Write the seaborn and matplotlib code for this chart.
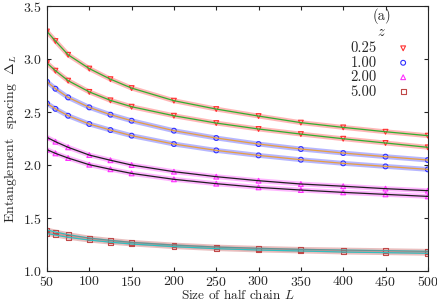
import numpy as np
import pandas as pd
import matplotlib
matplotlib.use("Agg")
import matplotlib.pyplot as plt
import seaborn as sns

sns.set_style("ticks")
plt.rcParams['font.family'] = 'serif'
plt.rcParams['font.serif'] = ['cmr10']
plt.rcParams['mathtext.fontset'] = 'cm'
plt.rcParams['axes.formatter.use_mathtext'] = True
plt.rcParams['xtick.direction'] = 'in'
plt.rcParams['ytick.direction'] = 'in'
plt.rcParams['xtick.top'] = True
plt.rcParams['ytick.right'] = True

# sizes of half chain
L = [50, 60, 75, 100, 125, 150, 200, 250, 300, 350, 400, 450, 500]

# two curves for each z
z025_a = [3.26, 3.17, 3.04, 2.91, 2.81, 2.726, 2.607, 2.528, 2.462, 2.400, 2.355, 2.314, 2.277]
z025_b = [2.962, 2.89, 2.796, 2.690, 2.61, 2.550, 2.465, 2.396, 2.340, 2.292, 2.248, 2.208, 2.167]
z100_a = [2.786, 2.72, 2.638, 2.544, 2.475, 2.418, 2.324, 2.255, 2.198, 2.151, 2.113, 2.079, 2.047]
z100_b = [2.582, 2.53, 2.465, 2.387, 2.33, 2.277, 2.198, 2.138, 2.091, 2.050, 2.016, 1.987, 1.959]
z200_a = [2.261, 2.22, 2.167, 2.094, 2.045, 2.000, 1.937, 1.890, 1.852, 1.821, 1.800, 1.777, 1.758]
z200_b = [2.145, 2.11, 2.066, 2.003, 1.96, 1.921, 1.865, 1.824, 1.789, 1.764, 1.742, 1.723, 1.704]
z500_a = [1.387, 1.368, 1.343, 1.311, 1.289, 1.270, 1.245, 1.226, 1.214, 1.204, 1.198, 1.192, 1.186]
z500_b = [1.355, 1.339, 1.318, 1.292, 1.272, 1.255, 1.230, 1.211, 1.198, 1.189, 1.179, 1.173, 1.167]

z_labels = ['0.25', '1.00', '2.00', '5.00']
series = [(z025_a, z025_b), (z100_a, z100_b), (z200_a, z200_b), (z500_a, z500_b)]
mk_colors = ['#ff3030', '#3030ff', '#ff30ff', '#c04848']
fit_colors = ['#30b030', '#e8a040', '#202020', '#30c0c0']
markers = ['v', 'o', '^', 's']

fig, ax = plt.subplots(figsize=(4.37, 3.03), dpi=100)
fig.subplots_adjust(left=0.1075, right=0.979, bottom=0.1056, top=0.980)

for lab, (a, b), mc, fc, m in zip(z_labels, series, mk_colors, fit_colors, markers):
    for i, y in enumerate((a, b)):
        df = pd.DataFrame({'L': L, 'D': y})
        # light band of dense data points
        sns.lineplot(data=df, x='L', y='D', ax=ax, color=mc, linewidth=3.5, alpha=0.35)
        sns.scatterplot(data=df, x='L', y='D', ax=ax, marker=m, s=12,
                        facecolor='none', edgecolor=mc, linewidth=0.8,
                        label=lab if i == 0 else None)
        sns.lineplot(data=df, x='L', y='D', ax=ax, color=fc, linewidth=0.9)

ax.set_xlim(50, 500)
ax.set_ylim(1.0, 3.5)
ax.set_xticks(np.arange(50, 501, 50))
ax.set_yticks([1.0, 1.5, 2.0, 2.5, 3.0, 3.5])
ax.tick_params(labelsize=10, length=3)
ax.tick_params(axis='x', pad=3)
ax.set_xlabel(r'Size of half chain $L$', fontsize=9.5, labelpad=-0.5)
ax.set_ylabel(r'Entanglement  spacing  $\Delta_L$', fontsize=10, labelpad=3)

ax.text(0.88, 0.962, '(a)', transform=ax.transAxes, fontsize=10.5, ha='center', va='center')
ax.text(0.877, 0.9, '$z$', transform=ax.transAxes, fontsize=10.5, ha='center', va='center')
ax.legend(loc='upper right', bbox_to_anchor=(0.985, 0.905), frameon=False, markerfirst=False,
          fontsize=10.5, handlelength=1.2, handletextpad=1.2, labelspacing=0.05,
          borderpad=0.2, markerscale=1.0)

fig.savefig('out.png', dpi=100)
